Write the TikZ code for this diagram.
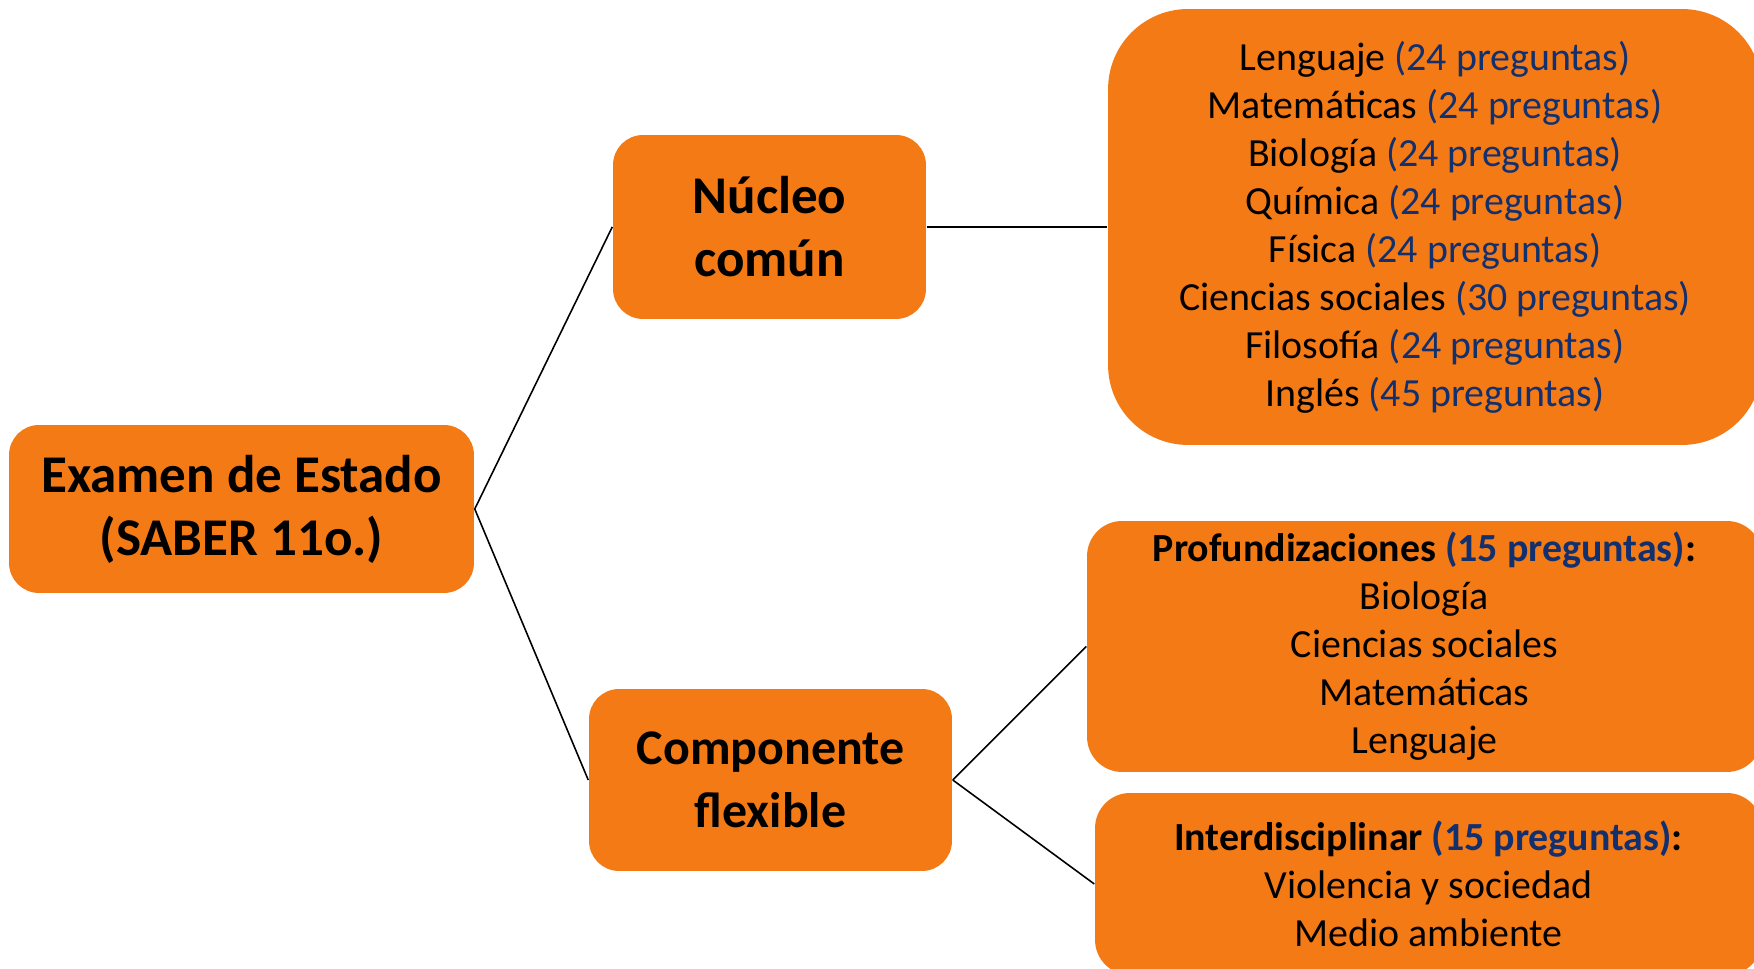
\documentclass[tikz,border=0pt]{standalone}
\usepackage{fontspec}
\setmainfont{Carlito}
\usepackage{xcolor}
\usetikzlibrary{positioning}
\definecolor{naranja}{HTML}{F47A15}
\definecolor{azul}{HTML}{12306E}
\newcommand{\npreg}[1]{\textcolor{azul}{(#1 preguntas)}}
\newcommand{\bigtxt}{\fontsize{30.2}{35.9}\selectfont\bfseries}
\newcommand{\listtxt}{\fontsize{22.7}{27.3}\selectfont}

\begin{document}
\begin{tikzpicture}[x=0.02cm,y=0.02cm,line width=0.9pt]
    \tikzstyle{box}=[rectangle,fill=naranja,draw=none,align=center,inner sep=0pt,text=black]
    \tikzstyle{main box}=[box,rounded corners=0.6cm,font=\bigtxt]
    \tikzstyle{list box}=[box,rounded corners=0.7cm,font=\listtxt]

    \useasboundingbox (0,0) rectangle (1754,969);
    \clip (0,0) rectangle (1754,969);

    % left and middle boxes
    \node[main box,minimum width=9.3cm,minimum height=3.36cm] (examen) at (241.5,460)
        {Examen de Estado\\(SABER 11o.)};
    \node[main box,minimum width=6.26cm,minimum height=3.68cm] (nucleo) at (769.5,742)
        {Núcleo\\común};
    \node[main box,minimum width=7.26cm,minimum height=3.64cm,
          font=\fontsize{28.4}{35.9}\selectfont\bfseries] (componente) at (770.5,189)
        {Componente\\flexible};

    % right boxes (they run off the page)
    \node[list box,rounded corners=1.6cm,minimum width=13.08cm,minimum height=8.72cm] (lista) at (1435,742)
        {Lenguaje \npreg{24}\\
         Matemáticas \npreg{24}\\
         Biología \npreg{24}\\
         Química \npreg{24}\\
         Física \npreg{24}\\
         Ciencias sociales \npreg{30}\\
         Filosofía \npreg{24}\\
         Inglés \npreg{45}};
    \node[list box,minimum width=13.5cm,minimum height=5.02cm] (profund) at (1424.5,322.5)
        {\textbf{Profundizaciones \npreg{15}:}\\
         Biología\\
         Ciencias sociales\\
         Matemáticas\\
         Lenguaje};
    \node[list box,minimum width=13.34cm,minimum height=3.64cm] (interd) at (1428.5,85)
        {\textbf{Interdisciplinar \npreg{15}:}\\
         Violencia y sociedad\\
         Medio ambiente};

    % connectors
    \draw (examen.east) -- (nucleo.west);
    \draw (examen.east) -- (componente.west);
    \draw (nucleo.east) -- (lista.west);
    \foreach \dest in {profund,interd}
        \draw (componente.east) -- (\dest.west);
\end{tikzpicture}
\end{document}
